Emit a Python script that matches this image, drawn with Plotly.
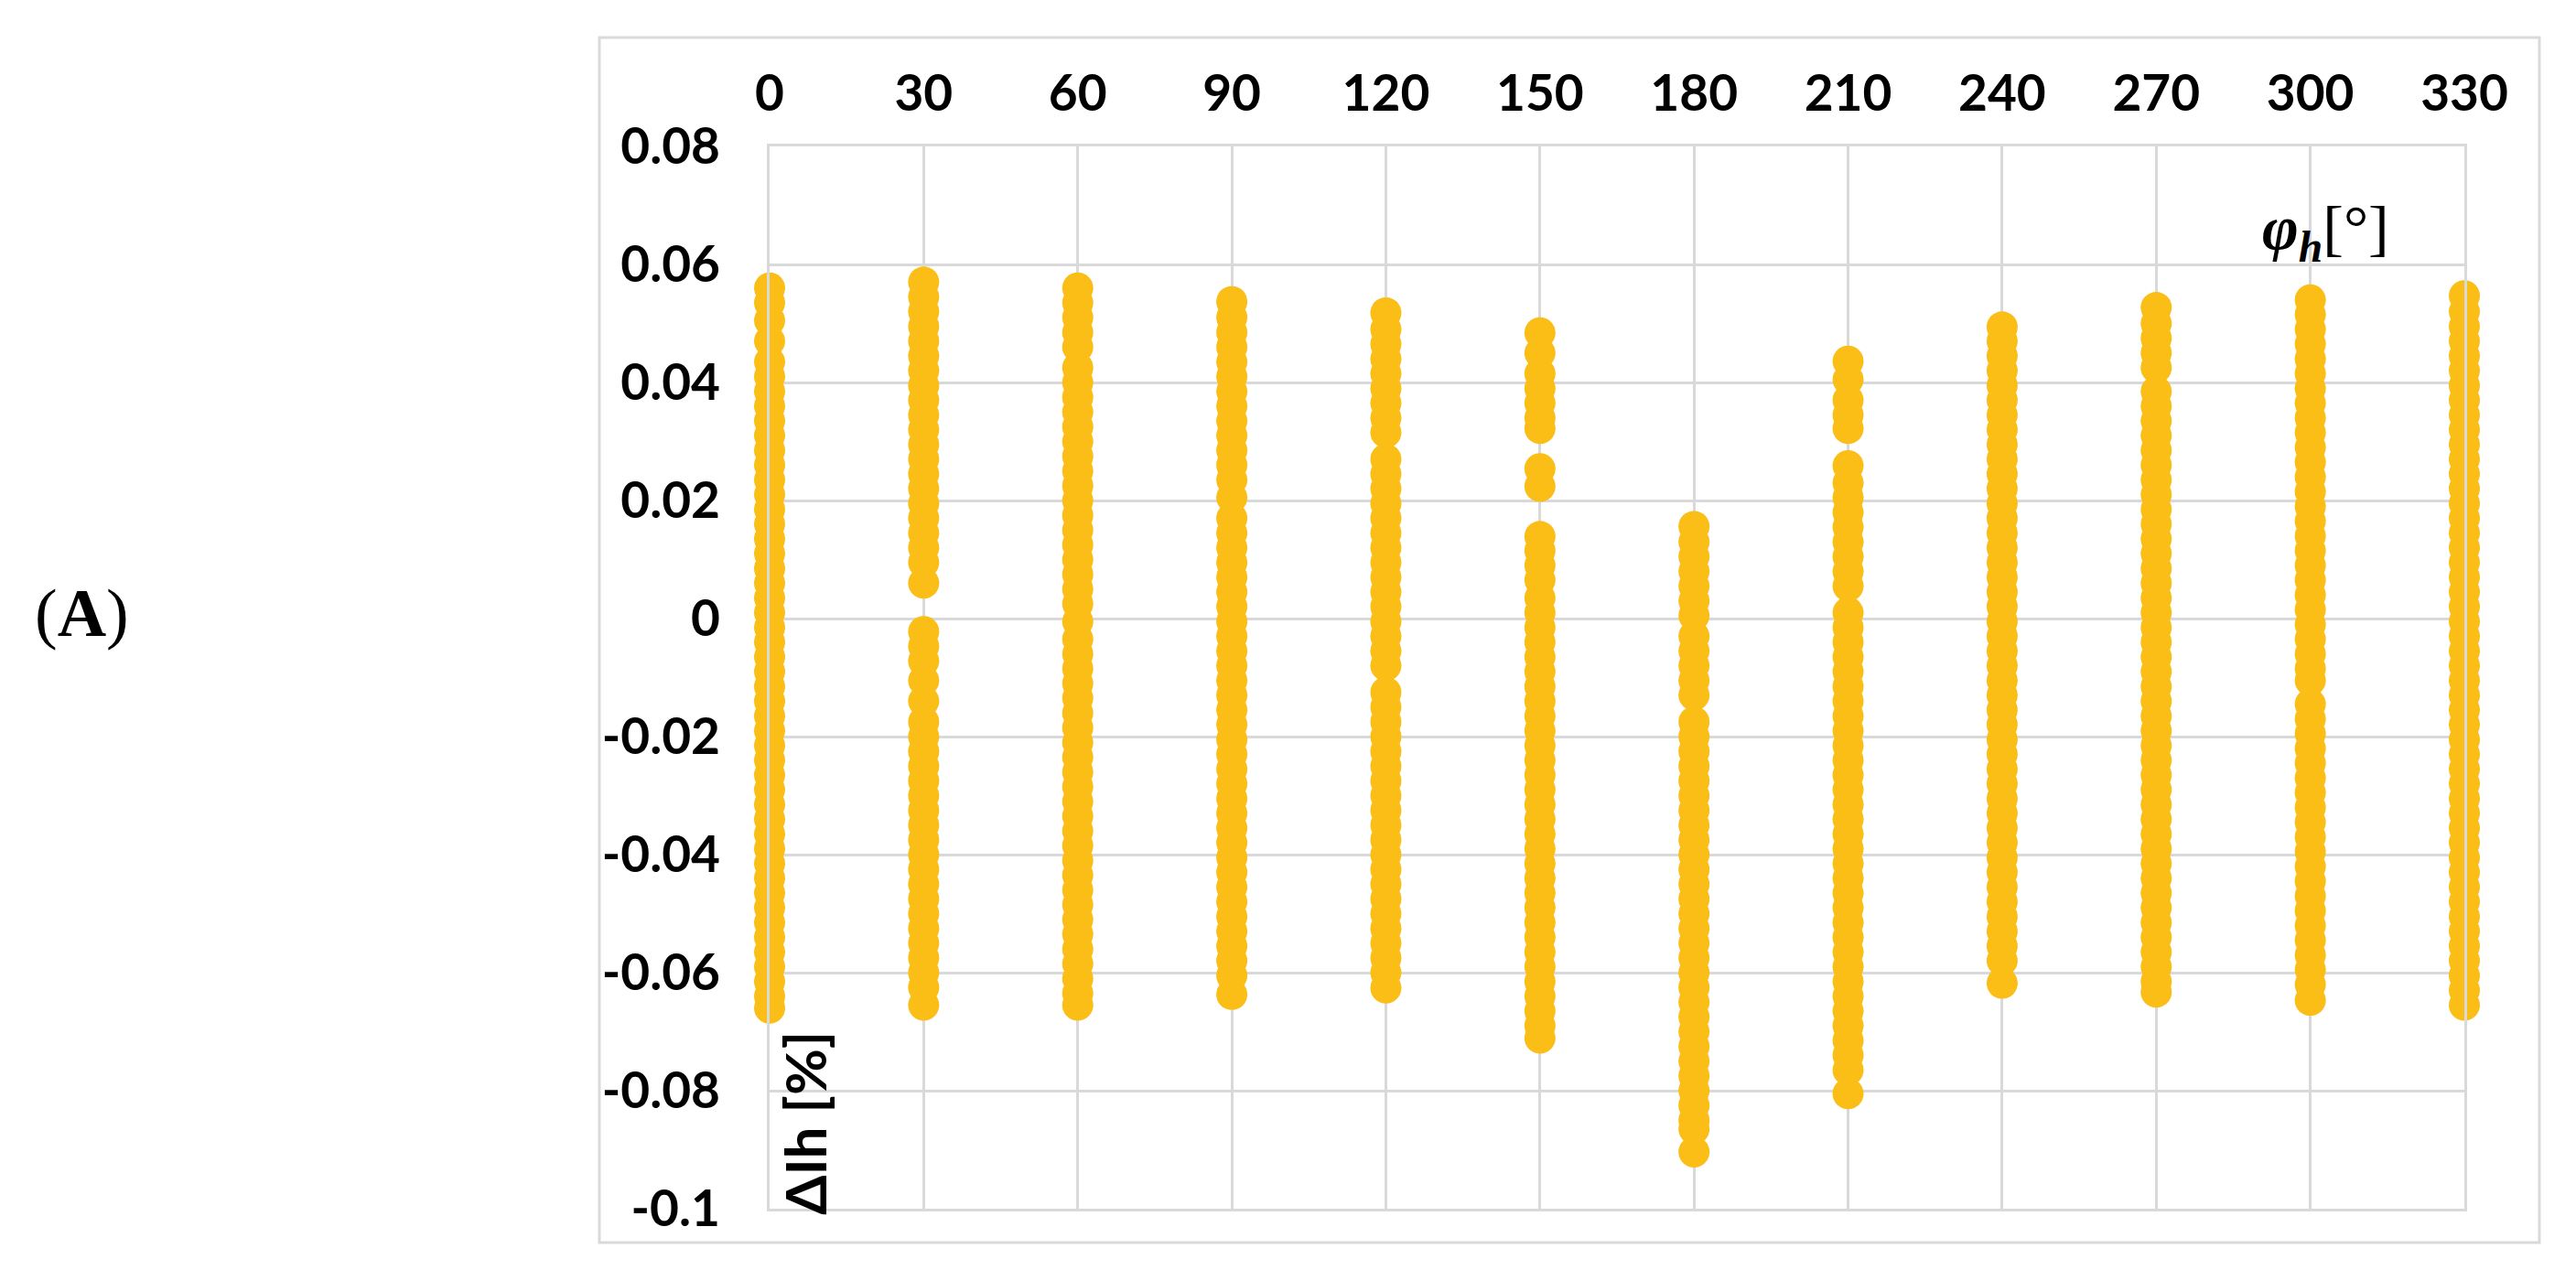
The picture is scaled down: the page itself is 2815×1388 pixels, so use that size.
import plotly.graph_objects as go

# Phase angle of the harmonic (deg) and the measured deviation of Ih (%) at each angle
angles = [0, 30, 60, 90, 120, 150, 180, 210, 240, 270, 300, 330]

dIh_0 = [0.056, 0.0535, 0.0505, 0.047, 0.0435, 0.041, 0.0385, 0.036, 0.0335, 0.031, 0.0285, 0.026,
         0.0235, 0.021, 0.0185, 0.016, 0.0135, 0.011, 0.0085, 0.006, 0.0035, 0.001, -0.0015, -0.004,
         -0.0065, -0.009, -0.0115, -0.014, -0.0165, -0.019, -0.0215, -0.024, -0.0265, -0.029, -0.0315,
         -0.034, -0.0365, -0.039, -0.0415, -0.044, -0.0465, -0.049, -0.0515, -0.054, -0.0565, -0.059,
         -0.0615, -0.064, -0.066]
dIh_30 = [0.057, 0.0545, 0.052, 0.0495, 0.047, 0.0445, 0.042, 0.0395, 0.037, 0.0345, 0.032, 0.0295,
          0.027, 0.0245, 0.022, 0.0195, 0.017, 0.0145, 0.012, 0.0095, 0.006,
          -0.0022, -0.0047, -0.0072, -0.0105, -0.014, -0.0175, -0.020, -0.0225, -0.025, -0.0275, -0.030,
          -0.0325, -0.035, -0.0375, -0.040, -0.0425, -0.045, -0.0475, -0.050, -0.0525, -0.055, -0.0575,
          -0.060, -0.0625, -0.0655]
dIh_60 = [0.056, 0.0535, 0.051, 0.0485, 0.046, 0.0425, 0.040, 0.0375, 0.035, 0.0325, 0.030, 0.0275,
          0.025, 0.0225, 0.020, 0.0175, 0.015, 0.0125, 0.010, 0.0075, 0.005, 0.0025, -0.0005, -0.0035,
          -0.006, -0.0085, -0.011, -0.0135, -0.016, -0.0185, -0.021, -0.0235, -0.026, -0.0285, -0.031,
          -0.0335, -0.036, -0.0385, -0.041, -0.0435, -0.046, -0.0485, -0.051, -0.0535, -0.056, -0.0585,
          -0.061, -0.0635, -0.0655]
dIh_90 = [0.0537, 0.051, 0.0485, 0.046, 0.0435, 0.041, 0.0385, 0.036, 0.0335, 0.031, 0.0285, 0.026,
          0.0235, 0.0205, 0.017, 0.0145, 0.012, 0.0095, 0.007, 0.0045, 0.002, -0.0005, -0.003, -0.0055,
          -0.008, -0.0105, -0.013, -0.0155, -0.018, -0.0205, -0.023, -0.0255, -0.028, -0.0305, -0.033,
          -0.0355, -0.038, -0.0405, -0.043, -0.0455, -0.048, -0.0505, -0.053, -0.0555, -0.058, -0.0605,
          -0.0637]
dIh_120 = [0.0518, 0.049, 0.0465, 0.044, 0.0415, 0.039, 0.0365, 0.034, 0.0315, 0.027, 0.0245, 0.022,
           0.0195, 0.017, 0.0145, 0.012, 0.0095, 0.007, 0.0045, 0.002, -0.0005, -0.003, -0.0055, -0.008,
           -0.0125, -0.015, -0.0175, -0.020, -0.0225, -0.025, -0.0275, -0.030, -0.0325, -0.035, -0.0375,
           -0.040, -0.0425, -0.045, -0.0475, -0.050, -0.0525, -0.055, -0.0575, -0.060, -0.0626]
dIh_150 = [0.0484, 0.045, 0.0415, 0.039, 0.0365, 0.034, 0.0322,
           0.0254, 0.0224,
           0.0139, 0.0115, 0.009, 0.0065, 0.0035, 0.001, -0.0015, -0.004, -0.0065, -0.009, -0.0115,
           -0.014, -0.0165, -0.019, -0.0215, -0.024, -0.0265, -0.029, -0.0315, -0.034, -0.0365, -0.039,
           -0.0415, -0.044, -0.0465, -0.049, -0.0515, -0.054, -0.0565, -0.059, -0.0615, -0.064, -0.0665,
           -0.069, -0.0711]
dIh_180 = [0.0156, 0.013, 0.0105, 0.008, 0.0055, 0.003, 0.0005, -0.003, -0.0055, -0.008, -0.0105,
           -0.013, -0.0175, -0.020, -0.0225, -0.025, -0.0275, -0.030, -0.0325, -0.035, -0.0375, -0.040,
           -0.0425, -0.045, -0.0475, -0.050, -0.0525, -0.055, -0.0575, -0.060, -0.0625, -0.065, -0.0675,
           -0.070, -0.0725, -0.075, -0.0775, -0.080, -0.0825, -0.085, -0.0865, -0.0904]
dIh_210 = [0.0436, 0.0405, 0.037, 0.0345, 0.0322,
           0.0259, 0.023, 0.0205, 0.018, 0.0155, 0.013, 0.0105, 0.008, 0.0055, 0.001, -0.0015, -0.004,
           -0.0065, -0.009, -0.0115, -0.014, -0.0165, -0.019, -0.0215, -0.024, -0.0265, -0.029, -0.0315,
           -0.034, -0.0365, -0.039, -0.0415, -0.044, -0.0465, -0.049, -0.0515, -0.054, -0.0565, -0.059,
           -0.0615, -0.064, -0.0665, -0.069, -0.0715, -0.074, -0.0765, -0.0805]
dIh_240 = [0.0494, 0.047, 0.0445, 0.042, 0.0395, 0.037, 0.0345, 0.032, 0.0295, 0.027, 0.0245, 0.022,
           0.0195, 0.017, 0.0145, 0.012, 0.0095, 0.007, 0.0045, 0.002, -0.0005, -0.003, -0.0055, -0.008,
           -0.0105, -0.013, -0.0155, -0.018, -0.0205, -0.023, -0.0255, -0.028, -0.0305, -0.033, -0.0355,
           -0.038, -0.0405, -0.043, -0.0455, -0.048, -0.0505, -0.053, -0.0555, -0.058, -0.0618]
dIh_270 = [0.0527, 0.050, 0.0475, 0.045, 0.0425, 0.0385, 0.036, 0.0335, 0.031, 0.0285, 0.026, 0.0235,
           0.021, 0.0185, 0.016, 0.0135, 0.011, 0.0085, 0.006, 0.0035, 0.001, -0.0015, -0.004, -0.0065,
           -0.009, -0.0115, -0.014, -0.0165, -0.019, -0.0215, -0.024, -0.0265, -0.029, -0.0315, -0.034,
           -0.0365, -0.039, -0.0415, -0.044, -0.0465, -0.049, -0.0515, -0.054, -0.0565, -0.059, -0.0615,
           -0.0633]
dIh_300 = [0.054, 0.0515, 0.049, 0.0465, 0.044, 0.0415, 0.039, 0.0365, 0.034, 0.0315, 0.029, 0.0265,
           0.024, 0.0215, 0.019, 0.0165, 0.014, 0.0115, 0.009, 0.0065, 0.004, 0.0015, -0.001, -0.0035,
           -0.006, -0.0085, -0.0105, -0.0145, -0.017, -0.0195, -0.022, -0.0245, -0.027, -0.0295, -0.032,
           -0.0345, -0.037, -0.0395, -0.042, -0.0445, -0.047, -0.0495, -0.052, -0.0545, -0.057, -0.0595,
           -0.062, -0.0647]
dIh_330 = [0.0547, 0.052, 0.0495, 0.047, 0.0445, 0.042, 0.0395, 0.037, 0.0345, 0.032, 0.0295, 0.027,
           0.0245, 0.022, 0.0195, 0.017, 0.0145, 0.012, 0.0095, 0.007, 0.0045, 0.002, -0.0005, -0.003,
           -0.0055, -0.008, -0.0105, -0.013, -0.0155, -0.018, -0.0205, -0.023, -0.0255, -0.028, -0.0305,
           -0.033, -0.0355, -0.038, -0.0405, -0.043, -0.0455, -0.048, -0.0505, -0.053, -0.0555, -0.058,
           -0.0605, -0.063, -0.0655]

y_tick_vals = [0.08, 0.06, 0.04, 0.02, 0, -0.02, -0.04, -0.06, -0.08, -0.1]
y_tick_text = ['0.08', '0.06', '0.04', '0.02', '0', '-0.02', '-0.04', '-0.06', '-0.08', '-0.1']
x_tick_text = [str(a) for a in angles]

columns = [dIh_0, dIh_30, dIh_60, dIh_90, dIh_120, dIh_150,
           dIh_180, dIh_210, dIh_240, dIh_270, dIh_300, dIh_330]

# unpack columns into one long x / y list
xs, ys = [], []
for a, vals in zip(angles, columns):
    xs += [a] * len(vals)
    ys += vals

W, H = 2815, 1388
L, R, T, B = 833, 130, 152, 75   # plot area margins in px
pw, ph = W - L - R, H - T - B

def px_to_paper(x, y):
    return (x - L) / pw, (H - B - y) / ph

GRID = '#d9d9d9'
GOLD = '#FBBE17'
tick_font = dict(family='Lato', size=55, color='black', weight='bold')

fig = go.Figure()
fig.add_trace(go.Scatter(
    x=xs, y=ys, mode='markers', cliponaxis=False,
    marker=dict(size=34, color=GOLD, line=dict(width=0)),
    hoverinfo='x+y'
))

# outer chart frame
x0, y0 = px_to_paper(647, 1350)
x1, y1 = px_to_paper(2767, 33)
fig.add_shape(type='rect', xref='paper', yref='paper', x0=x0, y0=y0, x1=x1, y1=y1,
              line=dict(color=GRID, width=3), layer='below')

fig.add_annotation(x=303, y=0.0655, xref='x', yref='y', showarrow=False,
                   text='<b><i>φ</i></b><sub><b><i>h</i></b></sub>[°]',
                   font=dict(family='Liberation Serif', size=68, color='black'))
fig.add_annotation(x=6.8, y=-0.0855, xref='x', yref='y', showarrow=False, textangle=-90,
                   text='ΔIh [%]',
                   font=dict(family='Lato', size=62, color='black', weight='bold'))
ax, ay = px_to_paper(28, 662)
fig.add_annotation(x=ax, y=ay, xref='paper', yref='paper', xanchor='left', showarrow=False,
                   text='(<b>A</b>)',
                   font=dict(family='Liberation Serif', size=74, color='black'))

fig.update_layout(
    width=W, height=H,
    margin=dict(l=L, r=R, t=T, b=B, pad=0),
    paper_bgcolor='white', plot_bgcolor='white',
    showlegend=False,
    xaxis=dict(range=[0, 330], side='top', tickvals=angles, ticktext=x_tick_text,
               showgrid=True, gridcolor=GRID, gridwidth=3, zeroline=False,
               showline=True, linecolor=GRID, linewidth=3, mirror=True,
               ticks='', ticklabelstandoff=14, tickfont=tick_font),
    yaxis=dict(range=[-0.1, 0.08], tickvals=y_tick_vals, ticktext=y_tick_text,
               showgrid=True, gridcolor=GRID, gridwidth=3, zeroline=False,
               showline=True, linecolor=GRID, linewidth=3, mirror=True,
               ticks='', ticklabelstandoff=40, tickfont=tick_font),
)

fig.write_html('out.html')
